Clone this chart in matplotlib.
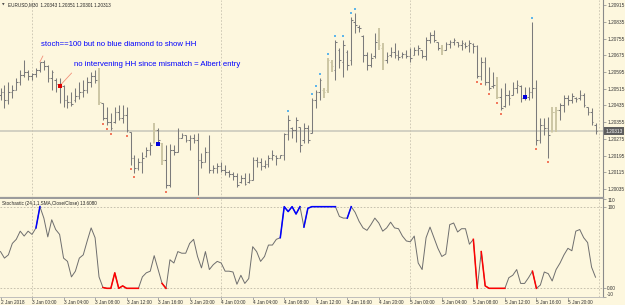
import numpy as np
import matplotlib
matplotlib.use('Agg')
import matplotlib.pyplot as plt

plt.rcParams['font.family'] = ['Liberation Sans', 'DejaVu Sans']

# EURUSD M30, 2 Jan 20:00 .. 5 Jan 23:30 (152 bars)
opens = [
    1.20485, 1.20499, 1.20461, 1.20499, 1.20509, 1.20547, 1.20581, 1.20595, 1.20576, 1.20585,
    1.20604, 1.20643, 1.20624, 1.20566, 1.20557, 1.20537, 1.20528, 1.20461, 1.20451, 1.20461,
    1.20480, 1.20499, 1.20509, 1.20547, 1.20576, 1.20557, 1.20447, 1.20375, 1.20356, 1.20356,
    1.20404, 1.20375, 1.20389, 1.20308, 1.20184, 1.20136, 1.20165, 1.20193, 1.20222, 1.20255,
    1.20318, 1.20255, 1.20174, 1.20055, 1.20222, 1.20212, 1.20279, 1.20294, 1.20270, 1.20279,
    1.20270, 1.20174, 1.20165, 1.20212, 1.20126, 1.20136, 1.20146, 1.20126, 1.20117, 1.20107,
    1.20098, 1.20069, 1.20088, 1.20069, 1.20079, 1.20174, 1.20165, 1.20146, 1.20155, 1.20184,
    1.20193, 1.20184, 1.20198, 1.20298, 1.20327, 1.20318, 1.20332, 1.20270, 1.20327, 1.20303,
    1.20461, 1.20499, 1.20509, 1.20509, 1.20643, 1.20604, 1.20700, 1.20643, 1.20690, 1.20652,
    1.20834, 1.20810, 1.20767, 1.20676, 1.20628, 1.20671, 1.20748, 1.20710, 1.20652, 1.20676,
    1.20690, 1.20676, 1.20671, 1.20681, 1.20671, 1.20676, 1.20700, 1.20700, 1.20671, 1.20748,
    1.20772, 1.20738, 1.20710, 1.20700, 1.20729, 1.20738, 1.20738, 1.20724, 1.20729, 1.20724,
    1.20729, 1.20719, 1.20576, 1.20643, 1.20547, 1.20528, 1.20533, 1.20475, 1.20432, 1.20485,
    1.20485, 1.20518, 1.20528, 1.20471, 1.20475, 1.20499, 1.20518, 1.20270, 1.20342, 1.20327,
    1.20308, 1.20404, 1.20413, 1.20437, 1.20471, 1.20461, 1.20471, 1.20471, 1.20485, 1.20428,
    1.20404, 1.20343]
highs = [
    1.20518, 1.20533, 1.20547, 1.20533, 1.20566, 1.20604, 1.20652, 1.20604, 1.20590, 1.20614,
    1.20643, 1.20652, 1.20628, 1.20604, 1.20566, 1.20566, 1.20533, 1.20485, 1.20499, 1.20518,
    1.20547, 1.20557, 1.20571, 1.20595, 1.20604, 1.20614, 1.20447, 1.20428, 1.20399, 1.20428,
    1.20437, 1.20437, 1.20428, 1.20308, 1.20198, 1.20184, 1.20212, 1.20236, 1.20260, 1.20351,
    1.20327, 1.20255, 1.20246, 1.20251, 1.20246, 1.20327, 1.20303, 1.20294, 1.20294, 1.20298,
    1.20303, 1.20208, 1.20236, 1.20294, 1.20150, 1.20160, 1.20165, 1.20150, 1.20126, 1.20117,
    1.20112, 1.20103, 1.20112, 1.20112, 1.20189, 1.20189, 1.20184, 1.20174, 1.20198, 1.20222,
    1.20198, 1.20198, 1.20303, 1.20389, 1.20332, 1.20380, 1.20332, 1.20351, 1.20342, 1.20471,
    1.20509, 1.20566, 1.20518, 1.20662, 1.20652, 1.20748, 1.20710, 1.20748, 1.20700, 1.20858,
    1.20877, 1.20820, 1.20772, 1.20690, 1.20686, 1.20781, 1.20805, 1.20733, 1.20690, 1.20714,
    1.20733, 1.20700, 1.20690, 1.20700, 1.20710, 1.20714, 1.20724, 1.20700, 1.20762, 1.20786,
    1.20796, 1.20738, 1.20724, 1.20738, 1.20748, 1.20757, 1.20738, 1.20748, 1.20738, 1.20748,
    1.20733, 1.20724, 1.20667, 1.20667, 1.20619, 1.20595, 1.20571, 1.20518, 1.20542, 1.20509,
    1.20547, 1.20557, 1.20533, 1.20523, 1.20523, 1.20834, 1.20557, 1.20375, 1.20375, 1.20380,
    1.20428, 1.20428, 1.20447, 1.20485, 1.20485, 1.20494, 1.20475, 1.20509, 1.20494, 1.20428,
    1.20423, 1.20351]
lows = [
    1.20461, 1.20423, 1.20442, 1.20471, 1.20509, 1.20533, 1.20571, 1.20557, 1.20557, 1.20571,
    1.20595, 1.20604, 1.20547, 1.20509, 1.20499, 1.20447, 1.20428, 1.20423, 1.20432, 1.20451,
    1.20466, 1.20475, 1.20494, 1.20523, 1.20542, 1.20437, 1.20365, 1.20342, 1.20318, 1.20351,
    1.20365, 1.20351, 1.20308, 1.20150, 1.20112, 1.20126, 1.20112, 1.20189, 1.20198, 1.20255,
    1.20255, 1.20150, 1.20040, 1.20045, 1.20198, 1.20212, 1.20279, 1.20260, 1.20222, 1.20255,
    1.20007, 1.20136, 1.20165, 1.20112, 1.20112, 1.20112, 1.20117, 1.20103, 1.20093, 1.20079,
    1.20045, 1.20064, 1.20055, 1.20064, 1.20079, 1.20141, 1.20126, 1.20136, 1.20141, 1.20174,
    1.20150, 1.20184, 1.20174, 1.20270, 1.20279, 1.20260, 1.20212, 1.20255, 1.20255, 1.20303,
    1.20423, 1.20461, 1.20471, 1.20494, 1.20595, 1.20557, 1.20614, 1.20571, 1.20604, 1.20628,
    1.20781, 1.20786, 1.20643, 1.20604, 1.20619, 1.20662, 1.20700, 1.20604, 1.20638, 1.20667,
    1.20662, 1.20652, 1.20662, 1.20662, 1.20643, 1.20676, 1.20676, 1.20662, 1.20652, 1.20733,
    1.20738, 1.20700, 1.20676, 1.20700, 1.20710, 1.20724, 1.20714, 1.20700, 1.20710, 1.20690,
    1.20686, 1.20566, 1.20557, 1.20533, 1.20509, 1.20518, 1.20466, 1.20413, 1.20428, 1.20437,
    1.20485, 1.20494, 1.20451, 1.20461, 1.20461, 1.20471, 1.20246, 1.20255, 1.20294, 1.20184,
    1.20308, 1.20308, 1.20365, 1.20404, 1.20437, 1.20447, 1.20451, 1.20461, 1.20428, 1.20389,
    1.20342, 1.20301]
closes = [
    1.20499, 1.20461, 1.20499, 1.20509, 1.20547, 1.20581, 1.20595, 1.20576, 1.20585, 1.20604,
    1.20643, 1.20624, 1.20566, 1.20595, 1.20537, 1.20528, 1.20461, 1.20451, 1.20442, 1.20480,
    1.20499, 1.20509, 1.20547, 1.20576, 1.20557, 1.20451, 1.20375, 1.20356, 1.20327, 1.20404,
    1.20375, 1.20389, 1.20318, 1.20184, 1.20136, 1.20165, 1.20184, 1.20222, 1.20246, 1.20318,
    1.20270, 1.20174, 1.20055, 1.20222, 1.20212, 1.20279, 1.20294, 1.20270, 1.20279, 1.20270,
    1.20174, 1.20165, 1.20212, 1.20126, 1.20136, 1.20146, 1.20126, 1.20117, 1.20107, 1.20098,
    1.20055, 1.20088, 1.20060, 1.20079, 1.20174, 1.20165, 1.20146, 1.20155, 1.20184, 1.20198,
    1.20184, 1.20198, 1.20298, 1.20365, 1.20318, 1.20365, 1.20246, 1.20327, 1.20270, 1.20461,
    1.20499, 1.20557, 1.20499, 1.20652, 1.20624, 1.20738, 1.20652, 1.20724, 1.20628, 1.20843,
    1.20820, 1.20805, 1.20676, 1.20628, 1.20662, 1.20738, 1.20724, 1.20652, 1.20671, 1.20690,
    1.20676, 1.20667, 1.20681, 1.20671, 1.20662, 1.20700, 1.20710, 1.20671, 1.20748, 1.20772,
    1.20748, 1.20710, 1.20700, 1.20729, 1.20738, 1.20748, 1.20724, 1.20733, 1.20719, 1.20733,
    1.20719, 1.20576, 1.20643, 1.20547, 1.20518, 1.20533, 1.20475, 1.20423, 1.20485, 1.20471,
    1.20518, 1.20533, 1.20471, 1.20475, 1.20499, 1.20518, 1.20270, 1.20342, 1.20327, 1.20294,
    1.20404, 1.20413, 1.20437, 1.20471, 1.20461, 1.20480, 1.20466, 1.20485, 1.20437, 1.20404,
    1.20356, 1.20313]

# Stochastic (24,1,1) values per bar
stoch = [
    45, 37, 41, 55, 60, 70, 64, 70, 66, 74,
    100, 86, 63, 84, 72, 66, 37, 33, 14, 21,
    37, 41, 58, 74, 62, 14, 1, 0, 0, 19,
    0, 3, 0, 0, 0, 0, 14, 19, 21, 40,
    23, 6, 0, 35, 31, 45, 43, 43, 55, 60,
    39, 25, 45, 23, 29, 33, 31, 21, 21, 20,
    5, 16, 6, 12, 51, 45, 33, 39, 53, 53,
    60, 62, 100, 94, 100, 91, 100, 75, 98, 100,
    100, 100, 100, 100, 100, 100, 88, 86, 86, 100,
    93, 82, 74, 71, 78, 86, 80, 70, 74, 81,
    74, 73, 64, 58, 57, 64, 31, 23, 62, 75,
    62, 49, 39, 42, 78, 80, 69, 73, 73, 54,
    60, 0, 45, 3, 0, 0, 0, 0, 0, 13,
    16, 23, 6, 6, 13, 21, 0, 4, 20, 18,
    9, 23, 31, 41, 49, 46, 70, 72, 62, 56,
    26, 13.608]

time_labels = ['2 Jan 2018',
               '3 Jan 00:00', '3 Jan 04:00', '3 Jan 08:00', '3 Jan 12:00', '3 Jan 16:00', '3 Jan 20:00',
               '4 Jan 00:00', '4 Jan 04:00', '4 Jan 08:00', '4 Jan 12:00', '4 Jan 16:00', '4 Jan 20:00',
               '5 Jan 00:00', '5 Jan 04:00', '5 Jan 08:00', '5 Jan 12:00', '5 Jan 16:00', '5 Jan 20:00']
price_ticks = [1.20915, 1.20835, 1.20755, 1.20675, 1.20595, 1.20515,
               1.20435, 1.20355, 1.20275, 1.20195, 1.20115, 1.20035]
day_starts = [8, 56, 104, 152]

# bars drawn in the lighter colour
light_bars = [25, 39, 41, 82, 83, 84, 96, 97, 112, 126, 140, 141]
# small dots above highs / below lows
up_dots = [73, 79, 80, 81, 83, 85, 87, 89, 90, 135]
down_dots = [26, 27, 28, 32, 33, 34, 42, 50, 121, 122, 124, 126, 127, 136, 139]
# signal markers
blue_marks = [40, 133]
blue_prices = [1.20251, 1.20475]
red_mark = 15
red_price = 1.20528
# coloured stochastic segments (first bar, last bar)
blue_spans = [(9, 10), (71, 76), (77, 85), (88, 89)]
red_spans = [(26, 35), (41, 42), (120, 121), (122, 128), (135, 136)]

opens = np.array(opens)
highs = np.array(highs)
lows = np.array(lows)
closes = np.array(closes)
stoch = np.array(stoch)
idx = np.arange(len(highs))

bg = '#fdf7de'
W, H = 625, 305


def px_box(x0, y0, x1, y1):
    return [x0 / W, 1 - y1 / H, (x1 - x0) / W, (y1 - y0) / H]


fig = plt.figure(figsize=(W / 100, H / 100), dpi=100, facecolor=bg)
ax = fig.add_axes(px_box(0, 0, 603, 198))
ax2 = fig.add_axes(px_box(0, 198.5, 603, 296.5))
for a in (ax, ax2):
    a.set_facecolor(bg)
    a.set_xlim(-0.13, 152.9)
    a.spines['left'].set_visible(False)
    a.spines['top'].set_visible(False)
    a.spines['right'].set_color('#8a8a8a')
    a.spines['right'].set_linewidth(0.8)
    for d in day_starts:
        a.axvline(d, color='#c9c3b0', lw=0.6, ls=(0, (2, 2)))
ax.spines['bottom'].set_color('#9c9c9c')
ax.spines['bottom'].set_linewidth(1.6)
ax2.spines['bottom'].set_color('#b5b5b5')
ax2.spines['bottom'].set_linewidth(0.6)

# price panel
ax.set_ylim(1.19993, 1.20939)
last_price = closes[-1]
ax.axhline(last_price, color='#cfcdc0', lw=1.3, zorder=1)

is_light = np.isin(idx, light_bars)
for sel, col, lw in [(~is_light, '#7b7b7b', 0.75), (is_light, '#ccc6a4', 1.4)]:
    i = idx[sel]
    ax.vlines(i, lows[sel], highs[sel], colors=col, linewidth=lw, zorder=2)
    ax.hlines(opens[sel], i - 0.42, i, colors=col, linewidth=0.75, zorder=2)
    ax.hlines(closes[sel], i, i + 0.42, colors=col, linewidth=0.75, zorder=2)

gap = 0.00019
ax.plot(up_dots, highs[up_dots] + gap, 's', ms=1.5, mew=0, color='#5fb6ea', zorder=3)
ax.plot(down_dots, lows[down_dots] - gap, 's', ms=1.5, mew=0, color='#f27a5e', zorder=3)
ax.plot(blue_marks, blue_prices, 's', ms=2.2, mew=0, color='#0000dd', zorder=4)
ax.plot([red_mark], [red_price], 's', ms=2.2, mew=0, color='#e00000', zorder=4)

ax.yaxis.tick_right()
ax.set_yticks(price_ticks)
ax.set_yticklabels([f'{p:.5f}' for p in price_ticks])
ax.tick_params(axis='y', length=2, width=0.5, pad=1, labelsize=3.4,
               colors='#8a8a8a', labelcolor='#333333')
ax.set_xticks([])
ax.text(1.004, last_price, f'{last_price:.5f}', transform=ax.get_yaxis_transform(),
        fontsize=3.4, color='white', va='center', ha='left',
        bbox=dict(boxstyle='square,pad=0.25', fc='#5e5e5e', ec='none'))

# annotations
ax.annotate('', xy=(10, highs[10]), xytext=(3, 6), textcoords='offset pixels',
            arrowprops=dict(arrowstyle='-', color='#f2907a', lw=0.6, shrinkA=0, shrinkB=0))
ax.annotate('', xy=(red_mark, red_price), xytext=(12, 13), textcoords='offset pixels',
            arrowprops=dict(arrowstyle='-', color='#f2907a', lw=0.6, shrinkA=0, shrinkB=1))
fig.text(41 / W, 1 - 44 / H, 'stoch==100 but no blue diamond to show HH',
         fontsize=5.6, color='#0000ff', va='center', ha='left')
fig.text(74 / W, 1 - 65 / H, 'no intervening HH since mismatch = Albert entry',
         fontsize=5.6, color='#0000ff', va='center', ha='left')

fig.text(2 / W, 1 - 5 / H, '\u25bc', fontsize=2.4, color='#444444', va='center', ha='left',
         family='DejaVu Sans')
fig.text(8 / W, 1 - 5 / H,
         f'EURUSD,M30  {opens[-1]:.5f} {highs[-1]:.5f} {lows[-1]:.5f} {closes[-1]:.5f}',
         fontsize=3.3, color='#222222', va='center', ha='left')

# stochastic panel
ax2.set_ylim(-10, 110)
ax2.axhline(100, color='#bdb8a6', lw=0.6, ls=(0, (2, 2)))
ax2.axhline(0, color='#bdb8a6', lw=0.6, ls=(0, (2, 2)))
ax2.plot(idx, stoch, color='#6e6e6e', lw=0.7, zorder=2)
for a, b in blue_spans:
    ax2.plot(idx[a:b + 1], stoch[a:b + 1], color='#0000ff', lw=1.1, zorder=3)
for a, b in red_spans:
    ax2.plot(idx[a:b + 1], stoch[a:b + 1], color='#ff0000', lw=1.1, zorder=3)

ax2.yaxis.tick_right()
ax2.set_yticks([-10, 0, 100, 110])
ax2.set_yticklabels(['-10', '0.00', '100', '110'])
ax2.tick_params(axis='y', length=2, width=0.5, pad=1, labelsize=3.4,
                colors='#8a8a8a', labelcolor='#333333')
lbls = ax2.get_yticklabels()
lbls[0].set_va('bottom')
lbls[-1].set_va('top')

ax2.set_xticks(idx[::8])
ax2.set_xticklabels(time_labels, ha='left')
ax2.tick_params(axis='x', length=2, width=0.5, pad=0.8, labelsize=3.4,
                colors='#8a8a8a', labelcolor='#333333')

fig.text(2 / W, 1 - 203 / H, f'Stochastic (24,1,1,SMA,Close/Close) {stoch[-1]:.4f}',
         fontsize=3.3, color='#222222', va='center', ha='left')

fig.savefig('out.png', dpi=100, facecolor=bg)
